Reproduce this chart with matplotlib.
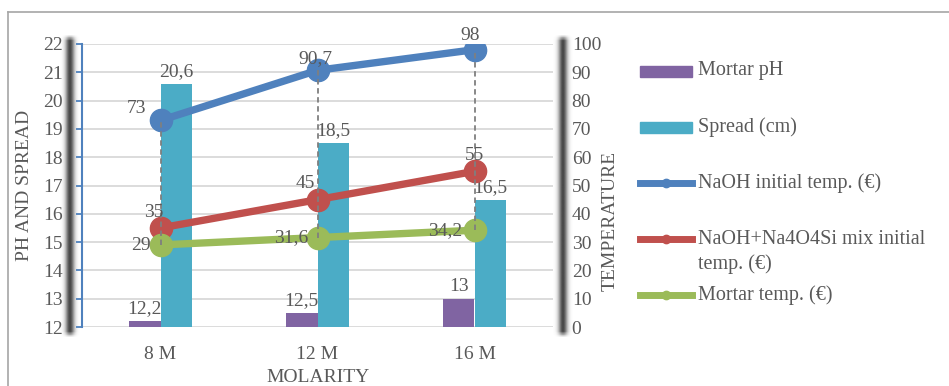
import numpy as np
import matplotlib.pyplot as plt
from matplotlib.patches import Rectangle

plt.rcParams['font.family'] = ['Liberation Serif', 'DejaVu Serif']

# Data
categories = ['8 M', '12 M', '16 M']
mortar_ph = [12.2, 12.5, 13.0]
spread_cm = [20.6, 18.5, 16.5]
naoh_temp = [73, 90.7, 98]
mix_temp = [35, 45, 55]
mortar_temp = [29, 31.6, 34.2]

series_names = ['Mortar pH', 'Spread (cm)', 'NaOH initial temp. (€)',
                'NaOH+Na4O4Si mix initial\ntemp. (€)', 'Mortar temp. (€)']

# Colours
purple = '#8064A2'
teal = '#4BACC6'
blue = '#4F81BD'
red = '#C0504D'
green = '#9BBB59'
txt = '#595959'
grid_c = '#D9D9D9'

W, H = 949, 386


def fmt(v):
    return f'{v:g}'.replace('.', ',')


fig = plt.figure(figsize=(W / 100, H / 100), dpi=100)

# background overlay in pixel coordinates (border, shadows, legend)
ov = fig.add_axes([0, 0, 1, 1], zorder=-1)
ov.axis('off')

ax = fig.add_axes([82 / W, 59 / H, (553 - 82) / W, 283 / H], zorder=1)
ax.patch.set_visible(False)
x = np.arange(len(categories))
ax.set_xlim(-0.5, 2.5)
ax.set_ylim(12, 22)

bw = 0.2
b1 = ax.bar(x - bw / 2, mortar_ph, bw, color=purple, zorder=2)
b2 = ax.bar(x + bw / 2, spread_cm, bw, color=teal, zorder=2)
for bars, vals in [(b1, mortar_ph), (b2, spread_cm)]:
    for rect, v in zip(bars, vals):
        ax.annotate(fmt(v), (rect.get_x() + rect.get_width() / 2, v), xytext=(0, 4),
                    textcoords='offset pixels', ha='center', va='bottom',
                    fontsize=14, color=txt)

ax.set_yticks(np.arange(12, 23, 1))
ax.yaxis.grid(True, color=grid_c, lw=1.3)
ax.set_axisbelow(True)
for s in ['top', 'right', 'bottom']:
    ax.spines[s].set_visible(False)
ax.spines['left'].set_color(blue)
ax.spines['left'].set_linewidth(1.5)
ax.tick_params(axis='y', direction='out', length=4.3, width=1.3, color=blue,
               labelcolor=txt, labelsize=14, pad=9.4)
ax.set_xticks(x)
ax.set_xticklabels(categories)
ax.tick_params(axis='x', length=0, labelcolor=txt, labelsize=14, pad=14)

# temperature axis
ax2 = ax.twinx()
ax2.patch.set_visible(False)
ax2.set_ylim(0, 100)
ax2.set_yticks(np.arange(0, 101, 10))
for s in ax2.spines.values():
    s.set_visible(False)
ax2.tick_params(axis='y', length=0, labelcolor=txt, labelsize=14, pad=13.5)

temps = [naoh_temp, mix_temp, mortar_temp]
colors = [blue, red, green]
for vals, c in zip(temps, colors):
    ax2.plot(x, vals, color=c, lw=5.3, marker='o', ms=16, zorder=3)

# high-low drop lines
for i in range(len(x)):
    col = [t[i] for t in temps]
    ax2.vlines(x[i], min(col), max(col), colors='#7F7F7F', linestyles=(0, (3, 2)),
               lw=1.3, zorder=4)

# data label offsets in pixels (label centre relative to marker)
offsets = [
    [(-24, 12), (-2, 12), (-4, 14)],
    [(-7, 15), (-12, 16), (0, 16)],
    [(-20, -1), (-26, 0), (-29, 0)],
]
for vals, offs in zip(temps, offsets):
    for xi, v, o in zip(x, vals, offs):
        ax2.annotate(fmt(v), (xi, v), xytext=o, textcoords='offset pixels',
                     ha='center', va='center', fontsize=14, color=txt, zorder=5)

# axis titles
fig.text(25 / W, 1 - 185 / H, 'PH AND SPREAD', rotation=90, ha='center', va='center',
         fontsize=14, color=txt)
fig.text(610 / W, 1 - 221 / H, 'TEMPERATURE', rotation=90, ha='center', va='center',
         fontsize=14, color=txt)
fig.text(318 / W, 1 - 377 / H, 'MOLARITY', ha='center', va='center', fontsize=14, color=txt)

# outer border
ov.plot([8, W], [12, 12], color='#A6A6A6', lw=1.2)
ov.plot([8, 8], [12, H], color='#A6A6A6', lw=1.2)


# blurred shadows behind the value axes
def shadow(xc, y0, y1, sigma=3.2, amax=0.9):
    xs = np.linspace(xc - 12, xc + 12, 80)
    ys = np.linspace(y0, y1, 200)
    prof = np.exp(-0.5 * ((xs - xc) / sigma) ** 2)
    ramp = np.clip(np.minimum(ys - y0, y1 - ys) / 6, 0, 1)
    rgba = np.zeros((len(ys), len(xs), 4))
    rgba[..., :3] = 0.2
    rgba[..., 3] = amax * np.outer(ramp, prof)
    ov.imshow(rgba, extent=(xc - 12, xc + 12, y1, y0), aspect='auto', zorder=0)


shadow(70, 34, 338)
shadow(563, 34, 338)
ov.set_xlim(0, W)
ov.set_ylim(H, 0)

# legend
leg_y = [71, 127, 183, 252, 295]
for i, (name, yy) in enumerate(zip(series_names, leg_y)):
    hy = yy if i != 3 else 239
    if i < 2:
        ov.add_patch(Rectangle((640, hy - 5.5), 52, 11, color=[purple, teal][i]))
    else:
        c = colors[i - 2]
        ov.plot([640, 692], [hy, hy], color=c, lw=5)
        ov.plot([666], [hy], marker='o', ms=6, color=c)
    fig.text(698 / W, 1 - yy / H, name, ha='left', va='center', fontsize=14.5,
             color=txt, linespacing=1.3)

fig.savefig('out.png', dpi=100)
